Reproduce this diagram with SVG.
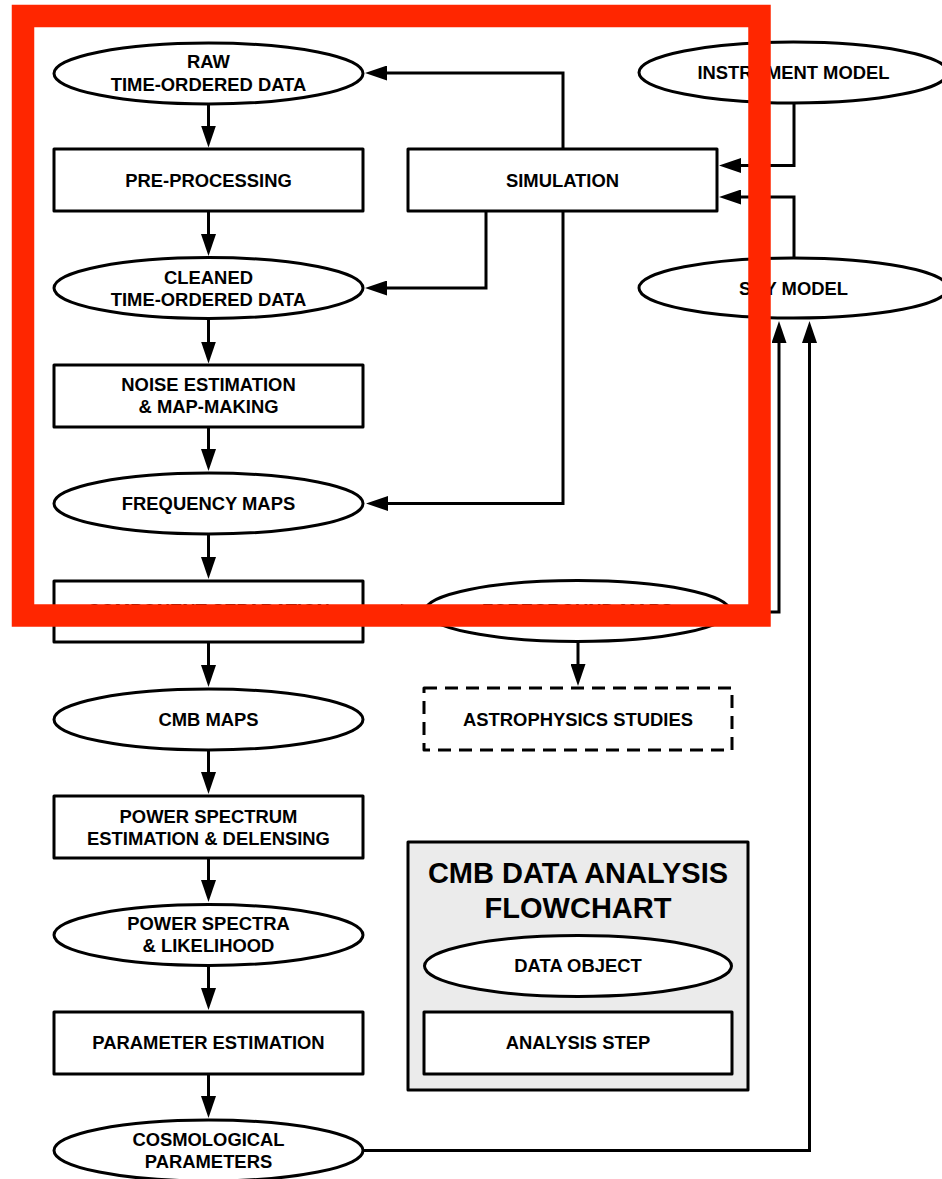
<svg xmlns="http://www.w3.org/2000/svg" width="942" height="1179" viewBox="0 0 942 1179">
<style>
.n{fill:#fff;stroke:#000;stroke-width:3;stroke-linejoin:round}
.d{stroke-dasharray:13,8}
.t{font-family:"Liberation Sans",Arial,Helvetica,sans-serif;font-weight:bold;font-size:18.4px;text-anchor:middle;fill:#000}
.h{font-size:29px}
.c{fill:none;stroke:#000;stroke-width:3;marker-end:url(#ah)}
</style>
<defs>
<marker id="ah" markerUnits="userSpaceOnUse" viewBox="0 0 22 15" markerWidth="22" markerHeight="15" refX="12" refY="7.5" orient="auto">
<path d="M0,0 L22,7.5 L0,15 z" fill="#000"/>
</marker>
</defs>
<rect width="942" height="1179" fill="#fff"/>
<g id="connectors">
<path class="c" d="M208.5,104 V137.5"/>
<path class="c" d="M208.5,212 V246"/>
<path class="c" d="M208.5,319 V353.5"/>
<path class="c" d="M208.5,427.5 V461"/>
<path class="c" d="M208.5,534 V569"/>
<path class="c" d="M208.5,642 V677"/>
<path class="c" d="M208.5,750 V784"/>
<path class="c" d="M208.5,859 V892"/>
<path class="c" d="M208.5,966 V1000"/>
<path class="c" d="M208.5,1074 V1108"/>
<path class="c" d="M563,149 V73 H375"/>
<path class="c" d="M486,212 V288 H375"/>
<path class="c" d="M563,212 V503.5 H376"/>
<path class="c" d="M794,103 V165.5 H729"/>
<path class="c" d="M794,257.5 V197 H729"/>
<path class="c" d="M363,611.5 H413"/>
<path class="c" d="M578,642 V676"/>
<path class="c" d="M730,612 H779 V331"/>
<path class="c" d="M363,1150.5 H809.5 V331"/>
</g>
<g id="raw"><ellipse class="n" cx="208.5" cy="73.5" rx="154.5" ry="30.5"/><text class="t" x="208.5" y="68">RAW</text><text class="t" x="208.5" y="90.5">TIME-ORDERED DATA</text></g>
<g id="preproc"><rect class="n" x="54" y="149" width="309" height="62"/><text class="t" x="208.5" y="187">PRE-PROCESSING</text></g>
<g id="cleaned"><ellipse class="n" cx="208.5" cy="288" rx="154.5" ry="30.5"/><text class="t" x="208.5" y="284">CLEANED</text><text class="t" x="208.5" y="306">TIME-ORDERED DATA</text></g>
<g id="noise"><rect class="n" x="54" y="365" width="309" height="62"/><text class="t" x="208.5" y="391">NOISE ESTIMATION</text><text class="t" x="208.5" y="413">&amp; MAP-MAKING</text></g>
<g id="freq"><ellipse class="n" cx="208.5" cy="503.5" rx="154.5" ry="30.5"/><text class="t" x="208.5" y="510">FREQUENCY MAPS</text></g>
<g id="compsep"><rect class="n" x="54" y="581" width="309" height="61"/><text class="t" x="208.5" y="617">COMPONENT SEPARATION</text></g>
<g id="cmb"><ellipse class="n" cx="208.5" cy="719.5" rx="154.5" ry="30.5"/><text class="t" x="208.5" y="726">CMB MAPS</text></g>
<g id="psest"><rect class="n" x="54" y="796" width="309" height="62"/><text class="t" x="208.5" y="822.5">POWER SPECTRUM</text><text class="t" x="208.5" y="845">ESTIMATION &amp; DELENSING</text></g>
<g id="spectra"><ellipse class="n" cx="208.5" cy="935" rx="154.5" ry="30.5"/><text class="t" x="208.5" y="930">POWER SPECTRA</text><text class="t" x="208.5" y="952">&amp; LIKELIHOOD</text></g>
<g id="paramest"><rect class="n" x="54" y="1012" width="309" height="62"/><text class="t" x="208.5" y="1049">PARAMETER ESTIMATION</text></g>
<g id="cosmo"><ellipse class="n" cx="208.5" cy="1150.5" rx="154.5" ry="30.5"/><text class="t" x="208.5" y="1146">COSMOLOGICAL</text><text class="t" x="208.5" y="1167.5">PARAMETERS</text></g>
<g id="simulation"><rect class="n" x="408" y="149" width="309" height="62"/><text class="t" x="562.5" y="187">SIMULATION</text></g>
<g id="instrument"><ellipse class="n" cx="793.5" cy="72.5" rx="154.5" ry="30.5"/><text class="t" x="793.5" y="79">INSTRUMENT MODEL</text></g>
<g id="sky"><ellipse class="n" cx="793.5" cy="288" rx="154.5" ry="30"/><text class="t" x="793.5" y="295">SKY MODEL</text></g>
<g id="foreground"><ellipse class="n" cx="577.5" cy="611" rx="152.5" ry="30.5"/><text class="t" x="577.5" y="617">FOREGROUND MAPS</text></g>
<g id="astro"><rect class="n d" x="424" y="688" width="308" height="62"/><text class="t" x="578" y="726">ASTROPHYSICS STUDIES</text></g>
<g id="legend">
<rect x="408" y="842" width="340" height="248" fill="#EBEBEB" stroke="#000" stroke-width="3" stroke-linejoin="round"/>
<text class="t h" x="578" y="883">CMB DATA ANALYSIS</text>
<text class="t h" x="578" y="918">FLOWCHART</text>
<ellipse class="n" cx="578" cy="966" rx="153.5" ry="30.5"/><text class="t" x="578" y="972">DATA OBJECT</text>
<rect class="n" x="424" y="1012" width="308" height="62"/><text class="t" x="578" y="1048.5">ANALYSIS STEP</text>
</g>
<rect x="23" y="16" width="736.5" height="599.5" fill="none" stroke="#FF2600" stroke-width="22.5"/>
</svg>
